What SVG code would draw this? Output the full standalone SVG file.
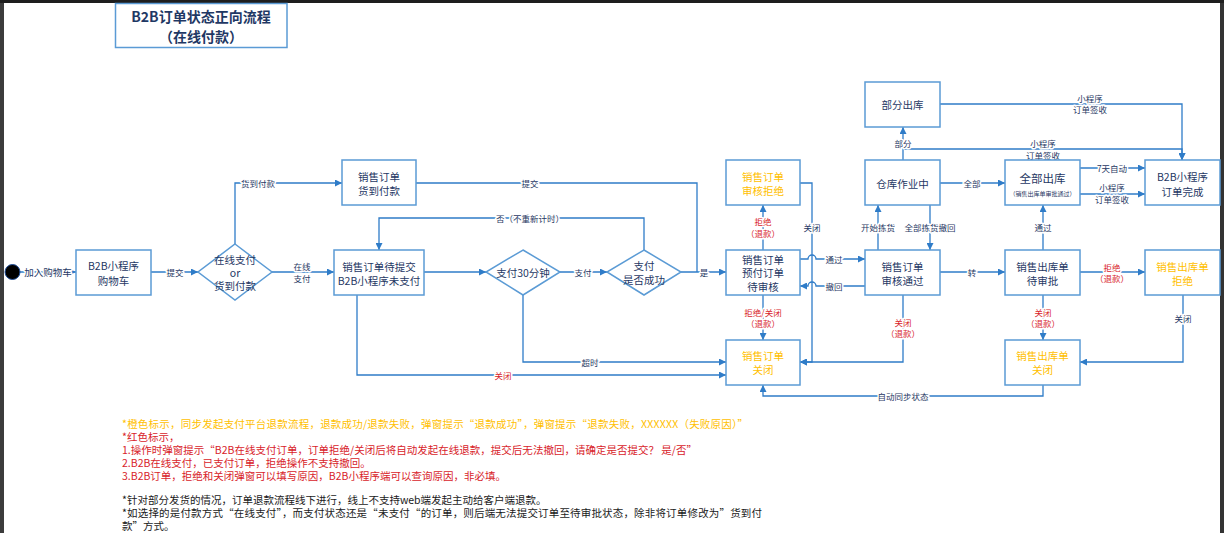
<svg xmlns="http://www.w3.org/2000/svg" width="1224" height="533" viewBox="0 0 1224 533">
<style>
text{font-family:"Noto Sans CJK SC","Microsoft YaHei",sans-serif}
.n{fill:#fff;stroke:#5b9bd5;stroke-width:1.5}
.t{font-size:10.5px;fill:#1f3864;text-anchor:middle;dominant-baseline:central}
.o{fill:#ffc000}
.c{fill:none;stroke:#2f7cc8;stroke-width:1.3}
.a{marker-end:url(#ar)}
.l{font-size:8.5px;fill:#1f3864;text-anchor:middle;dominant-baseline:central;stroke:#fff;stroke-width:3;stroke-linejoin:round;paint-order:stroke}
.r{fill:#d8232a}
.note{font-size:10.5px;dominant-baseline:central}
</style>
<defs>
<marker id="ar" markerUnits="userSpaceOnUse" markerWidth="7" markerHeight="7" refX="7" refY="3.5" orient="auto">
<path d="M0,0 L7,3.5 L0,7 z" fill="#2f7cc8"/>
</marker>
</defs>
<rect width="1224" height="533" fill="#fff"/>
<rect x="0" y="0" width="1224" height="3" fill="#1e1e1e"/>
<rect x="0" y="3" width="4" height="530" fill="#3c3c3c"/>
<rect x="1220" y="3" width="4" height="530" fill="#333"/>

<g id="title">
<rect x="115.5" y="3.5" width="171.5" height="44" class="n"/>
<text x="201" y="15.5" class="t" style="font-size:14px;font-weight:bold">B2B订单状态正向流程</text>
<text x="201" y="36" class="t" style="font-size:14px;font-weight:bold">（在线付款）</text>
</g>

<g id="connectors">
<path class="c a" d="M20 272 H76"/>
<path class="c a" d="M151 272 H198"/>
<path class="c a" d="M235 244 V183 H342"/>
<path class="c a" d="M272 272 H334"/>
<path class="c" d="M416 183 H697 V272"/>
<path class="c a" d="M424 272 H486"/>
<path class="c a" d="M560 272 H607"/>
<path class="c a" d="M644 250 V218 H379 V250"/>
<path class="c a" d="M681 272 H726"/>
<path class="c a" d="M523 295 V362 H726"/>
<path class="c a" d="M357 295 V375 H726"/>
<path class="c a" d="M763 250 V205"/>
<path class="c a" d="M763 295 V340"/>
<path class="c a" d="M800 183 H812 V362 H800"/>
<path class="c a" d="M800 259 H808 a4 4 0 0 1 8 0 H865"/>
<path class="c a" d="M865 286 H816 a4 4 0 0 0 -8 0 H800"/>
<path class="c a" d="M903 295 V362 H800"/>
<path class="c a" d="M878 250 V205"/>
<path class="c a" d="M930 205 V250"/>
<path class="c a" d="M903 160 V127"/>
<path class="c a" d="M903 149 H1182 V160"/>
<path class="c a" d="M940 104 H1182 V160"/>
<path class="c a" d="M940 183 H1005"/>
<path class="c a" d="M1080 168 H1145"/>
<path class="c a" d="M1080 194 H1145"/>
<path class="c a" d="M940 272 H1005"/>
<path class="c a" d="M1043 250 V205"/>
<path class="c a" d="M1080 272 H1145"/>
<path class="c a" d="M1043 295 V340"/>
<path class="c a" d="M1183 295 V362 H1080"/>
<path class="c a" d="M1043 385 V396 H763 V385"/>

<text x="48" y="272" class="l" style="font-size:9.5px">加入购物车</text>
<text x="175" y="272" class="l">提交</text>
<text x="258" y="183" class="l">货到付款</text>
<text x="302" y="266" class="l">在线</text>
<text x="302" y="278" class="l">支付</text>
<text x="530" y="183" class="l">提交</text>
<text x="530" y="218" class="l">否（不重新计时）</text>
<text x="583" y="272" class="l">支付</text>
<text x="704" y="272" class="l">是</text>
<text x="590" y="362" class="l">超时</text>
<text x="503" y="375" class="l r">关闭</text>
<text x="763" y="221" class="l r">拒绝</text>
<text x="763" y="233" class="l r">（退款）</text>
<text x="763" y="312" class="l r">拒绝/关闭</text>
<text x="763" y="323" class="l r">（退款）</text>
<text x="812" y="227" class="l">关闭</text>
<text x="834" y="259" class="l">通过</text>
<text x="834" y="286" class="l">撤回</text>
<text x="903" y="322" class="l r">关闭</text>
<text x="903" y="333" class="l r">（退款）</text>
<text x="878" y="227" class="l">开始拣货</text>
<text x="930" y="227" class="l">全部拣货撤回</text>
<text x="903" y="143" class="l">部分</text>
<text x="1043" y="143" class="l">小程序</text>
<text x="1043" y="155" class="l">订单签收</text>
<text x="1090" y="98" class="l">小程序</text>
<text x="1090" y="109" class="l">订单签收</text>
<text x="972" y="183" class="l">全部</text>
<text x="1112" y="168" class="l">7天自动</text>
<text x="1112" y="187" class="l">小程序</text>
<text x="1112" y="199" class="l">订单签收</text>
<text x="972" y="272" class="l">转</text>
<text x="1043" y="227" class="l">通过</text>
<text x="1112" y="267" class="l r">拒绝</text>
<text x="1112" y="278" class="l r">（退款）</text>
<text x="1043" y="312" class="l r">关闭</text>
<text x="1043" y="323" class="l r">（退款）</text>
<text x="1183" y="318" class="l">关闭</text>
<text x="903" y="396" class="l">自动同步状态</text>
</g>

<g id="start"><circle cx="12.5" cy="272" r="7.5" fill="#000" stroke="#1f4e9a" stroke-width="1"/></g>

<g id="cart">
<rect x="76" y="250" width="75" height="45" class="n"/>
<text x="113.5" y="265" class="t">B2B小程序</text>
<text x="113.5" y="280" class="t">购物车</text>
</g>

<g id="choice">
<polygon points="235,244 272,272 235,300 198,272" class="n"/>
<text x="235" y="259" class="t">在线支付</text>
<text x="235" y="272" class="t">or</text>
<text x="235" y="285" class="t">货到付款</text>
</g>

<g id="cod">
<rect x="342" y="160" width="74" height="45" class="n"/>
<text x="379" y="176" class="t">销售订单</text>
<text x="379" y="190" class="t">货到付款</text>
</g>

<g id="pending">
<rect x="334" y="250" width="90" height="45" class="n"/>
<text x="379" y="266" class="t">销售订单待提交</text>
<text x="379" y="280" class="t">B2B小程序未支付</text>
</g>

<g id="pay30">
<polygon points="523,250 560,272 523,295 486,272" class="n"/>
<text x="523" y="272" class="t">支付30分钟</text>
</g>

<g id="paid">
<polygon points="644,250 681,272 644,295 607,272" class="n"/>
<text x="644" y="265" class="t">支付</text>
<text x="644" y="279" class="t">是否成功</text>
</g>

<g id="review">
<rect x="726" y="250" width="74" height="45" class="n"/>
<text x="763" y="259" class="t">销售订单</text>
<text x="763" y="272.5" class="t">预付订单</text>
<text x="763" y="286" class="t">待审核</text>
</g>

<g id="rejected">
<rect x="726" y="160" width="74" height="45" class="n"/>
<text x="763" y="176" class="t o">销售订单</text>
<text x="763" y="190" class="t o">审核拒绝</text>
</g>

<g id="closed">
<rect x="726" y="340" width="74" height="45" class="n"/>
<text x="763" y="355" class="t o">销售订单</text>
<text x="763" y="369" class="t o">关闭</text>
</g>

<g id="approved">
<rect x="865" y="250" width="75" height="45" class="n"/>
<text x="902.5" y="266" class="t">销售订单</text>
<text x="902.5" y="280" class="t">审核通过</text>
</g>

<g id="warehouse">
<rect x="865" y="160" width="75" height="45" class="n"/>
<text x="902.5" y="183" class="t">仓库作业中</text>
</g>

<g id="partial">
<rect x="865" y="82" width="75" height="45" class="n"/>
<text x="902.5" y="104" class="t">部分出库</text>
</g>

<g id="alldone">
<rect x="1005" y="160" width="75" height="45" class="n"/>
<text x="1042.5" y="178" class="t" style="font-size:11.5px">全部出库</text>
<text x="1042.5" y="193" class="t" style="font-size:6px">（销售出库单审批通过）</text>
</g>

<g id="complete">
<rect x="1145" y="160" width="75" height="45" class="n"/>
<text x="1182.5" y="176" class="t">B2B小程序</text>
<text x="1182.5" y="191" class="t">订单完成</text>
</g>

<g id="outpending">
<rect x="1005" y="250" width="75" height="45" class="n"/>
<text x="1042.5" y="266" class="t">销售出库单</text>
<text x="1042.5" y="280" class="t">待审批</text>
</g>

<g id="outrejected">
<rect x="1145" y="250" width="75" height="45" class="n"/>
<text x="1182.5" y="266" class="t o">销售出库单</text>
<text x="1182.5" y="280" class="t o">拒绝</text>
</g>

<g id="outclosed">
<rect x="1005" y="340" width="75" height="45" class="n"/>
<text x="1042.5" y="355" class="t o">销售出库单</text>
<text x="1042.5" y="369" class="t o">关闭</text>
</g>

<g id="notes">
<text x="122" y="423" class="note" fill="#ffc000" textLength="626" lengthAdjust="spacing">*橙色标示，同步发起支付平台退款流程，退款成功/退款失败，弹窗提示“退款成功”，弹窗提示“退款失败，XXXXXX（失败原因）”</text>
<text x="122" y="436" class="note" fill="#d8232a">*红色标示，</text>
<text x="122" y="449" class="note" fill="#d8232a" textLength="575" lengthAdjust="spacing">1.操作时弹窗提示“B2B在线支付订单，订单拒绝/关闭后将自动发起在线退款，提交后无法撤回，请确定是否提交？ 是/否”</text>
<text x="122" y="462" class="note" fill="#d8232a">2.B2B在线支付，已支付订单，拒绝操作不支持撤回。</text>
<text x="122" y="475" class="note" fill="#d8232a">3.B2B订单，拒绝和关闭弹窗可以填写原因，B2B小程序端可以查询原因，非必填。</text>
<text x="122" y="499" class="note" fill="#1a1a1a">*针对部分发货的情况，订单退款流程线下进行，线上不支持web端发起主动给客户端退款。</text>
<text x="122" y="512" class="note" fill="#1a1a1a" textLength="640" lengthAdjust="spacing">*如选择的是付款方式“在线支付”，而支付状态还是“未支付“的订单，则后端无法提交订单至待审批状态，除非将订单修改为”货到付</text>
<text x="122" y="525" class="note" fill="#1a1a1a">款”方式。</text>
</g>
</svg>
